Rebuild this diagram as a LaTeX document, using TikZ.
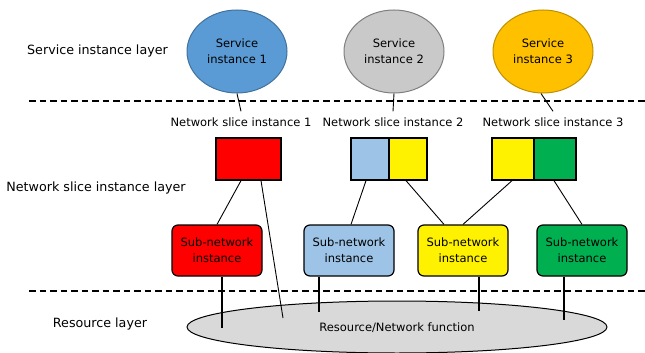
\documentclass[tikz,border=0pt]{standalone}
\usepackage{fontspec}
\setmainfont{DejaVu Sans}
\usetikzlibrary{shapes.geometric}
\definecolor{sBlue}{HTML}{5B9BD5}
\definecolor{sBlueD}{HTML}{41719C}
\definecolor{sGray}{HTML}{C9C9C9}
\definecolor{sGrayD}{HTML}{7F7F7F}
\definecolor{sGold}{HTML}{FFC000}
\definecolor{sGoldD}{HTML}{BF9000}
\definecolor{lBlue}{HTML}{9DC3E6}
\definecolor{nGreen}{HTML}{00B050}
\definecolor{rGray}{HTML}{D9D9D9}
\begin{document}
\begin{tikzpicture}[x=1pt,y=-1pt,
  every node/.style={font=\fontsize{11.5}{16}\selectfont, align=center},
  svc/.style={ellipse, draw, line width=1pt, minimum width=100pt, minimum height=83pt, inner sep=0pt},
  slab/.style={inner sep=0pt, text height=8.5pt, text depth=2.5pt, anchor=base},
  nbox/.style={rectangle, draw, line width=1.3pt, minimum height=42pt, inner sep=0pt},
  sub/.style={rectangle, rounded corners=6pt, draw, line width=1.2pt, minimum width=90pt, minimum height=51pt, inner sep=0pt},
  conn/.style={line width=0.9pt},
  res/.style={line width=1.8pt},
  lay/.style={font=\fontsize{12.7}{16}\selectfont},
  layer/.style={dash pattern=on 6.5pt off 4pt, line width=1.1pt}]
\useasboundingbox (0,0) rectangle (645,353);

% layer labels
\node[lay] (L1) at (97.5,51) {Service instance layer};
\node[lay] (L2) at (96,188) {Network slice instance layer};
\node[lay] (L3) at (100,324) {Resource layer};

% dashed separators
\coordinate (d1a) at (29,101);
\coordinate (d1b) at (645,101);
\coordinate (d2a) at (29,291);
\coordinate (d2b) at (645,291);
\draw[layer] (d1a) -- (d1b);
\draw[layer] (d2a) -- (d2b);

% resource ellipse
\node[ellipse, draw, line width=1pt, fill=rGray, minimum width=420pt, minimum height=52pt, inner sep=0pt] (R) at (397,327) {};
\node (Rt) at (397,328) {Resource/Network function};

% service instances
\node[svc, fill=sBlue, draw=sBlueD] (s1) at (237,51.5) {Service\\instance 1};
\node[svc, fill=sGray, draw=sGrayD] (s2) at (394,51.5) {Service\\instance 2};
\node[svc, fill=sGold, draw=sGoldD] (s3) at (543,51.5) {Service\\instance 3};

% slice labels
\node[slab] (l1) at (241,126) {Network slice instance 1};
\node[slab] (l2) at (393,126) {Network slice instance 2};
\node[slab] (l3) at (553,126) {Network slice instance 3};

\draw[conn] (s1.south) -- ([yshift=6pt]l1.north);
\draw[conn] (s2.south) -- ([yshift=6pt]l2.north);
\draw[conn] ([xshift=-2pt]s3.south) -- ([yshift=6pt]l3.north);

% slice boxes
\node[nbox, fill=red, minimum width=65pt] (b1) at (248.5,159) {};
\node[nbox, fill=lBlue, minimum width=38pt] (b2a) at (370,159) {};
\node[nbox, fill=yellow, minimum width=38pt] (b2b) at (408,159) {};
\node[nbox, fill=yellow, minimum width=42pt] (b3a) at (513,159) {};
\node[nbox, fill=nGreen, minimum width=42pt] (b3b) at (555,159) {};

% sub-network instances
\node[sub, fill=red] (n1) at (217,250.5) {Sub-network\\instance};
\node[sub, fill=lBlue] (n2) at (349,250.5) {Sub-network\\instance};
\node[sub, fill=yellow] (n3) at (463,250.5) {Sub-network\\instance};
\node[sub, fill=nGreen] (n4) at (582,250.5) {Sub-network\\instance};

% slice to sub-network connectors
\draw[conn] ([xshift=-7.5pt]b1.south) -- (n1.north);
\coordinate (rf) at (283,318);
\draw[conn] ([xshift=12.5pt]b1.south) -- (rf);
\draw[conn] ([xshift=-4pt]b2a.south) -- ([xshift=2pt]n2.north);
\draw[conn] ([xshift=-2pt]b2b.south) -- ([xshift=-19pt]n3.north);
\draw[conn] ([xshift=-1pt]b3a.south) -- (n3.north);
\draw[conn] ([xshift=-1pt]b3b.south) -- (n4.north);

% sub-network to resource
\coordinate (r1) at (222,328);
\coordinate (r2) at (319,312);
\coordinate (r3) at (479,311);
\coordinate (r4) at (564,320);
\draw[res] ([xshift=5pt]n1.south) -- (r1);
\draw[res] ([xshift=-30pt]n2.south) -- (r2);
\draw[res] ([xshift=16pt]n3.south) -- (r3);
\draw[res] ([xshift=-18pt]n4.south) -- (r4);
\end{tikzpicture}
\end{document}
